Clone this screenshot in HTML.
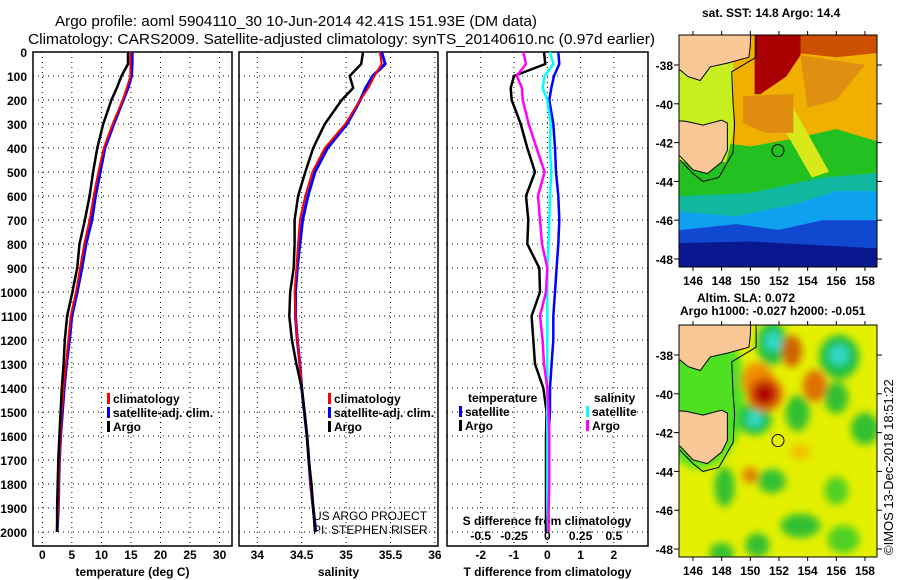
<!DOCTYPE html>
<html><head><meta charset="utf-8"><style>
html,body{margin:0;padding:0;background:#fff;}
svg{display:block;font-family:"Liberation Sans",sans-serif;}
.tk{font-size:12px;font-weight:bold;fill:#000;}
.lg{font-size:12px;font-weight:bold;fill:#000;}
</style></head><body>
<svg id="s" width="900" height="580" viewBox="0 0 900 580">
<defs>
<clipPath id="cm1"><rect x="679" y="35" width="198" height="232"/></clipPath>
<clipPath id="cm2"><rect x="679" y="325" width="198" height="232"/></clipPath>
<filter id="bl" x="-50%" y="-50%" width="200%" height="200%"><feGaussianBlur stdDeviation="4"/></filter>
</defs>
<text x="55" y="26" font-size="15" textLength="482" lengthAdjust="spacingAndGlyphs">Argo profile: aoml 5904110_30 10-Jun-2014 42.41S 151.93E (DM data)</text>
<text x="28" y="44" font-size="15" textLength="627" lengthAdjust="spacingAndGlyphs">Climatology: CARS2009. Satellite-adjusted climatology: synTS_20140610.nc (0.97d earlier)</text>
<g id="panels"></g>
<g id="maps"></g>
<text x="702" y="17" font-size="12" font-weight="bold">sat. SST: 14.8 Argo: 14.4</text>
<text x="697" y="302" font-size="12" font-weight="bold">Altim. SLA: 0.072</text>
<text x="680" y="315" font-size="12" font-weight="bold">Argo h1000: -0.027 h2000: -0.051</text>
<text transform="translate(893,555) rotate(-90)" font-size="13">©IMOS 13-Dec-2018 18:51:22</text>
<text x="313" y="520" font-size="12" fill="#000">US ARGO PROJECT</text>
<text x="313" y="534" font-size="12" fill="#000">PI: STEPHEN RISER</text>
</svg>
<script>
const depths=[0,50,100,150,200,300,400,500,600,700,800,900,1000,1100,1200,1300,1400,1500,1600,1700,1800,1900,2000];
const tempArgo=[14.5,14.5,13.4,12.6,11.7,10.3,9.3,8.6,8.0,7.2,6.3,5.9,5.1,4.2,3.8,3.6,3.3,3.1,2.9,2.7,2.6,2.5,2.5];
const tempClim=[14.9,14.9,14.9,14.3,13.6,11.9,10.4,9.5,8.7,8.0,7.1,6.4,5.7,4.8,4.4,4.0,3.6,3.3,3.1,2.9,2.8,2.7,2.5];
const tempSat=[15.2,15.2,15.1,14.5,13.7,12.1,10.6,9.8,9.0,8.4,7.4,6.7,5.9,5.0,4.6,4.1,3.7,3.4,3.1,2.9,2.8,2.7,2.5];
const salArgo=[35.19,35.17,35.04,35.08,34.95,34.76,34.63,34.54,34.46,34.42,34.42,34.41,34.37,34.36,34.39,34.44,34.50,34.53,34.56,34.58,34.61,34.63,34.65];
const salClim=[35.38,35.40,35.32,35.25,35.16,34.99,34.76,34.62,34.54,34.48,34.46,34.44,34.42,34.43,34.45,34.48,34.50,34.53,34.56,34.58,34.60,34.63,34.65];
const salSat=[35.40,35.44,35.30,35.22,35.16,35.01,34.79,34.65,34.57,34.51,34.48,34.45,34.43,34.43,34.45,34.48,34.50,34.53,34.56,34.58,34.60,34.63,34.66];
const dTempArgo=[-0.1,-0.06,-1.0,-1.1,-1.07,-0.8,-0.6,-0.37,-0.64,-0.57,-0.6,-0.24,-0.22,-0.47,-0.42,-0.37,-0.12,-0.02,-0.04,-0.04,-0.04,-0.04,-0.04];
const dTempSat=[0.33,0.36,0.2,0.12,0.06,0.18,0.23,0.26,0.33,0.36,0.33,0.28,0.23,0.18,0.18,0.13,0.08,0.08,0.03,0.03,0.03,0.03,0.03];
const dSalArgo=[-0.18,-0.16,-0.23,-0.19,-0.185,-0.14,-0.08,-0.02,-0.07,-0.055,-0.04,0,-0.01,-0.055,-0.035,-0.025,0,0.01,0.015,0.015,0.015,0.01,0.01];
const dSalSat=[0.02,0.045,-0.02,-0.035,0,0.025,0.02,0.03,0.02,0.015,0.01,0,0,0,0,0,0,0,0,0,0,0,0.005];
const depthTicks=[0,100,200,300,400,500,600,700,800,900,1000,1100,1200,1300,1400,1500,1600,1700,1800,1900,2000];
const tempTicks=[0,5,10,15,20,25,30];
const salTicks=[34,34.5,35,35.5,36];
const dTempTicks=[-2,-1,0,1,2];
const dSalTicks=[-0.5,-0.25,0,0.25,0.5];
const dSalTickLabels=["-0.5","-0.25","0","0.25","0.5"];

const NS="http://www.w3.org/2000/svg";
function mk(tag,attrs,parent){const e=document.createElementNS(NS,tag);for(const k in attrs)e.setAttribute(k,attrs[k]);parent.appendChild(e);return e;}
const TOP=52,BOT=546;
function yD(d){return TOP+d*0.24;}
const P=document.getElementById('panels');
const panels=[
 {x0:33,x1:232,sx:v=>42.3+v*5.91,ticks:tempTicks,title:"temperature (deg C)",name:"temperature"},
 {x0:239,x1:438,sx:v=>257.3+(v-34)*88.8,ticks:salTicks,title:"salinity",name:"salinity"},
 {x0:447,x1:648,sx:v=>547.3+v*33.3,ticks:dTempTicks,title:"T difference from climatology",name:"difference"}
];
function sS(v){return 547.3+v*133.2;}
panels.forEach(p=>{
 const g=mk('g',{},P);
 
 
 depthTicks.forEach(d=>{const l=mk('line',{x1:p.x0,x2:p.x1,y1:yD(d),y2:yD(d),stroke:'#000','stroke-width':1,'stroke-dasharray':'1,4'},g);
  
  });
 p.ticks.forEach(t=>{const x=p.sx(t);const l=mk('line',{x1:x,x2:x,y1:TOP,y2:BOT,stroke:'#000','stroke-width':1,'stroke-dasharray':'1,4'},g);
  
  
  const tx=mk('text',{x:x,y:559,'text-anchor':'middle',class:'tk'},g);tx.textContent=String(t);
  
  });
 const r=mk('rect',{x:p.x0,y:TOP,width:p.x1-p.x0,height:BOT-TOP,fill:'none',stroke:'#000','stroke-width':1.5},g);
 
 
 const tt=mk('text',{x:(p.x0+p.x1)/2,y:576,'text-anchor':'middle',class:'tk'},g);tt.textContent=p.title;
 
 
});
depthTicks.forEach(d=>{const t=mk('text',{x:27,y:yD(d)+5,'text-anchor':'end',class:'tk'},P);t.textContent=String(d);
 
 });
dSalTicks.forEach((v,i)=>{const t=mk('text',{x:sS(v),y:540,'text-anchor':'middle',class:'tk'},P);t.textContent=dSalTickLabels[i];
 
 });
const st=mk('text',{x:547,y:525,'text-anchor':'middle',class:'tk'},P);st.textContent="S difference from climatology";



function line(vals,fx,color,w,name){
 const pts=vals.map((v,i)=>fx(v).toFixed(1)+','+yD(depths[i]).toFixed(1)).join(' ');
 const l=mk('polyline',{points:pts,fill:'none',stroke:color,'stroke-width':w,'stroke-linejoin':'round'},P);
 
 
}
const tx=panels[0].sx,sx=panels[1].sx,dx=panels[2].sx;
line(tempSat,tx,'#0000ff',3,'temp-satellite-line');
line(tempClim,tx,'#ff0000',2,'temp-climatology-line');
line(tempArgo,tx,'#000',2.5,'temp-argo-line');
line(salSat,sx,'#0000ff',3,'sal-satellite-line');
line(salClim,sx,'#ff0000',2,'sal-climatology-line');
line(salArgo,sx,'#000',2.5,'sal-argo-line');
line(dTempSat,dx,'#0000ff',2.5,'dtemp-satellite-line');
line(dTempArgo,dx,'#000',2.5,'dtemp-argo-line');
line(dSalSat,sS,'#00ffff',2.5,'dsal-satellite-line');
line(dSalArgo,sS,'#ff00ff',2.5,'dsal-argo-line');

function legend(x,y,items,name){
 items.forEach((it,i)=>{
  const r=mk('rect',{x:x,y:y+i*14-10,width:3,height:11,fill:it[1]},P);
  
  
  const t=mk('text',{x:x+6,y:y+i*14,class:'lg'},P);t.textContent=it[0];
  
  
 });
}
legend(107,403,[["climatology","#f00"],["satellite-adj. clim.","#00f"],["Argo","#000"]],'temp-legend');
legend(328,403,[["climatology","#f00"],["satellite-adj. clim.","#00f"],["Argo","#000"]],'sal-legend');
legend(459,416,[["satellite","#00f"],["Argo","#000"]],'dtemp-legend');
legend(586,416,[["satellite","#0ff"],["Argo","#f0f"]],'dsal-legend');
const lt=mk('text',{x:468,y:402,class:'lg'},P);lt.textContent="temperature";


const ls=mk('text',{x:594,y:402,class:'lg'},P);ls.textContent="salinity";



/* maps */
const M=document.getElementById('maps');
function mx(lon){return 693+(lon-146)*14.33;}
function makeMap(off,clip,name){
 const g=mk('g',{'clip-path':'url(#'+clip+')'},M);
 
 
 const my=s=>65+off+(s-38)*19.4;
 const poly=(pts,fill,extra)=>{const a={points:pts.map(p=>mx(p[0]).toFixed(1)+','+my(p[1]).toFixed(1)).join(' '),fill:fill};Object.assign(a,extra||{});return mk('polygon',a,g);};
 return {g,my,poly};
}
const landMain=[[144,36],[150.05,36],[150.0,37.0],[149.9,37.6],[148.4,37.9],[147.2,38.1],[146.5,38.8],[145.65,38.6],[145.1,38.26],[144,38.3]];
const landTas=[[144,40.84],[145.5,40.9],[146.7,41.1],[148.0,40.84],[148.4,41.0],[148.4,42.4],[148.0,43.0],[147.0,43.6],[146.0,43.4],[145.1,42.7],[144,42.6]];
const shelf=[[150.4,36],[150.4,37.6],[148.7,38.35],[148.8,40],[148.9,41],[148.8,42.5],[147.8,43.8],[146.7,44.0],[146.0,43.6],[145.1,42.9]];
function addLand(m){
 m.poly(landMain,'#f9c896',{stroke:'#000','stroke-width':1});
 m.poly(landTas,'#f9c896',{stroke:'#000','stroke-width':1});
 mk('polyline',{points:shelf.map(p=>mx(p[0]).toFixed(1)+','+m.my(p[1]).toFixed(1)).join(' '),fill:'none',stroke:'#000','stroke-width':1},m.g);
 mk('circle',{cx:mx(151.93),cy:m.my(42.41),r:6,fill:'none',stroke:'#000','stroke-width':1},m.g);
}
// SST map
const m1=makeMap(0,'cm1','sst-map');
mk('rect',{x:679,y:35,width:198,height:232,fill:'#22c020'},m1.g);
m1.poly([[144,36],[160,36],[160,42.2],[156,41.3],[153,41.8],[150,42.2],[148,42],[144,42]],'#f0b000');
m1.poly([[144,36],[148.8,36],[148.8,41.5],[148.3,43],[144,43]],'#c8f020');
m1.poly([[151.8,39.8],[153,40.2],[155.5,43.5],[154.3,43.8],[152.5,41.5],[151.8,41.5]],'#d8e818');
m1.poly([[149.5,39.6],[153,39.5],[153,41.5],[151,41.5],[149.5,41]],'#e08c10');
m1.poly([[153.5,37.5],[158,38],[156,39.8],[154,40.2]],'#e09010');
m1.poly([[150.3,36],[153.5,36],[153.5,37.5],[152.5,38.6],[150.7,39.5],[150.3,39.5]],'#a80000');
m1.poly([[153.5,36],[160,36],[160,37.3],[156,37.6],[153.5,37.4]],'#cc5000');
m1.poly([[144,44.8],[150,44.6],[155,43.8],[160,43.5],[160,49],[144,49]],'#10b8a0');
m1.poly([[144,45.5],[149,45.8],[153,45.2],[156,44.5],[160,44.5],[160,49],[144,49]],'#10a0f0');
m1.poly([[144,46.6],[149,46.2],[152,46.5],[155,46.0],[160,46.0],[160,49],[144,49]],'#1048d0');
m1.poly([[144,47.2],[150,47.1],[155,47.3],[160,47.5],[160,49],[144,49]],'#0a1890');
addLand(m1);
// SLA map
const m2=makeMap(290,'cm2','sla-map');
mk('rect',{x:679,y:325,width:198,height:232,fill:'#e4f000'},m2.g);
const bg=mk('g',{filter:'url(#bl)'},m2.g);
function blob(lon,s,rx,ry,fill){mk('ellipse',{cx:mx(lon),cy:m2.my(s),rx:rx,ry:ry,fill:fill},bg);}
blob(146.5,40,45,75,'#50e020');
blob(151.5,37.4,15,22,'#20c040');blob(151.6,37.3,8,10,'#30d8c8');
blob(156.2,38.1,20,22,'#20c040');blob(156.2,38.0,10,10,'#30d8c8');
blob(150.3,41.3,17,16,'#20c040');blob(150.3,41.3,8,8,'#30d8c8');
blob(150.5,39.3,16,18,'#f09000');
blob(151,40,18,18,'#e06000');blob(151,40,11,11,'#b00000');
blob(152.9,37.8,10,16,'#d06000');blob(154.5,39.6,12,16,'#e07000');
blob(150,44.2,8,8,'#e08000');blob(153.5,43,10,8,'#f0c000');
blob(153.3,41,12,18,'#30c030');blob(156,40.2,12,16,'#30c030');
blob(158,41.8,14,16,'#30c030');blob(148.2,44.8,10,20,'#30c030');
blob(151.5,44.5,14,12,'#30c030');blob(153.5,46.8,20,12,'#30c030');
blob(156,45,12,14,'#50d020');blob(150.5,47.8,12,12,'#30c030');
blob(156.5,47.5,16,14,'#50d020');blob(148,48.2,12,10,'#30c030');
addLand(m2);
// map frames and ticks
const lonTicks=[146,148,150,152,154,156,158];
const latTicks=[38,40,42,44,46,48];
[[35,'sst'],[325,'sla']].forEach(([y0,nm],k)=>{
 const off=k*290;
 const f=mk('rect',{x:679,y:y0,width:198,height:232,fill:'none',stroke:'#000','stroke-width':1},M);
 
 
 lonTicks.forEach(l=>{const x=mx(l);
  mk('line',{x1:x,x2:x,y1:y0,y2:y0-4,stroke:'#000'},M);
  mk('line',{x1:x,x2:x,y1:y0+232,y2:y0+236,stroke:'#000'},M);
  const t=mk('text',{x:x,y:y0+250,'text-anchor':'middle',class:'tk'},M);t.textContent=String(l);
  
  });
 latTicks.forEach(s=>{const y=65+off+(s-38)*19.4;
  mk('line',{x1:877,x2:882,y1:y,y2:y,stroke:'#000'},M);
  mk('line',{x1:674,x2:679,y1:y,y2:y,stroke:'#000'},M);
  const t=mk('text',{x:673,y:y+5,'text-anchor':'end',class:'tk'},M);t.textContent='-'+s;
  
  });
});
</script>
</body></html>
